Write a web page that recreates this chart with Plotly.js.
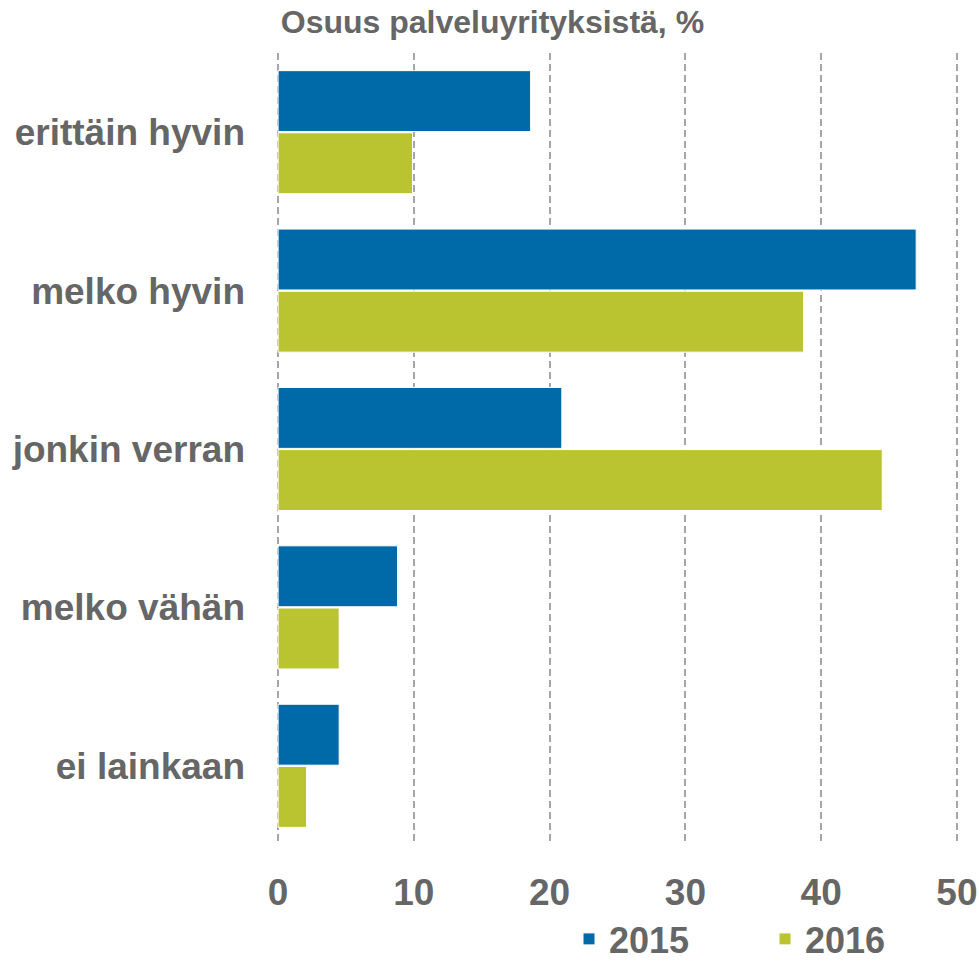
<!DOCTYPE html>
<html>
<head>
<meta charset="utf-8">
<script src="https://cdn.plot.ly/plotly-3.0.1.min.js"></script>
<style>html,body{margin:0;padding:0;background:#fff;}#chart{width:979px;height:969px;}</style>
</head>
<body>
<div id="chart"></div>
<script>
const categories = ["erittäin hyvin", "melko hyvin", "jonkin verran", "melko vähän", "ei lainkaan"];
const values2015 = [18.6, 47.0, 20.9, 8.8, 4.5];
const values2016 = [9.9, 38.7, 44.5, 4.5, 2.1];
const seriesNames = ["2015", "2016"];
const xTicks = [0, 10, 20, 30, 40, 50];
const titleText = "Osuus palveluyrityksistä, %";

const FONT = "Liberation Sans, Arial, Helvetica, sans-serif";
const GRAY = "#666666";

const traces = [
  {type: "bar", orientation: "h", name: seriesNames[0], y: categories, x: values2015,
   marker: {color: "#006AA9", line: {color: "#ffffff", width: 1}}, hoverinfo: "x+y"},
  {type: "bar", orientation: "h", name: seriesNames[1], y: categories, x: values2016,
   marker: {color: "#B9C430", line: {color: "#ffffff", width: 1}}, hoverinfo: "x+y"}
];

const layout = {
  width: 979, height: 969,
  margin: {l: 277, r: 21, t: 53, b: 124, pad: 0},
  paper_bgcolor: "#ffffff", plot_bgcolor: "#ffffff",
  barmode: "group", bargap: 0.215, bargroupgap: 0.02,
  font: {family: FONT, color: GRAY, size: 37, weight: 700},
  title: {text: titleText, x: 0.503, xref: "container", xanchor: "center",
          y: 1 - 22/969, yref: "container", yanchor: "middle",
          font: {family: FONT, size: 32, color: GRAY, weight: 700}},
  xaxis: {range: [-0.08, 50.08], tickvals: xTicks, ticktext: xTicks.map(String),
          showgrid: true, gridcolor: "#A6A6A6", gridwidth: 2, griddash: "7px,4px",
          zeroline: false, showline: false, ticks: "", ticklabelstandoff: 22,
          tickfont: {family: FONT, size: 37, color: GRAY, weight: 700}, fixedrange: true},
  yaxis: {autorange: "reversed", showgrid: false, zeroline: false, showline: false,
          ticks: "", ticklabelstandoff: 31,
          tickfont: {family: FONT, size: 37, color: GRAY, weight: 700}, fixedrange: true},
  showlegend: true,
  legend: {orientation: "h", xref: "container", yref: "container",
           x: 569/979, xanchor: "left", y: 0, yanchor: "bottom",
           entrywidth: 151, entrywidthmode: "pixels",
           font: {family: FONT, size: 36, color: GRAY, weight: 700},
           bgcolor: "rgba(0,0,0,0)", borderwidth: 0}
};

Plotly.newPlot("chart", traces, layout, {displayModeBar: false, staticPlot: true});
</script>
</body>
</html>
